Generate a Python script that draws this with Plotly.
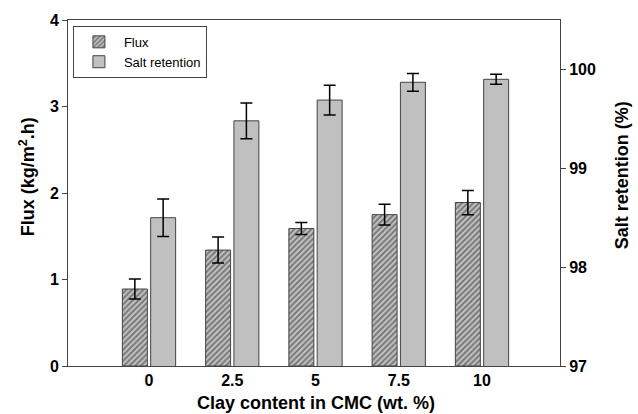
import plotly.graph_objects as go

categories = ["0", "2.5", "5", "7.5", "10"]
flux = [0.89, 1.34, 1.59, 1.75, 1.89]
flux_err = [0.115, 0.15, 0.07, 0.12, 0.14]
salt = [98.50, 99.48, 99.69, 99.87, 99.90]
salt_err = [0.19, 0.18, 0.15, 0.09, 0.05]
left_ticks = [0, 1, 2, 3, 4]
right_ticks = [97, 98, 99, 100]

xpos = list(range(len(categories)))
FONT = "Liberation Sans, Arial, sans-serif"
EDGE = "#444444"

fig = go.Figure()
fig.add_trace(go.Bar(
    x=xpos, y=flux, name="Flux", yaxis="y",
    offset=-0.32, width=0.30,
    marker=dict(color="#b8b8b8", line=dict(color=EDGE, width=1),
                pattern=dict(shape="/", fgcolor="#2a2a2a", bgcolor="#c4c4c4",
                             size=4, solidity=0.5, fillmode="overlay")),
    error_y=dict(type="data", array=flux_err, color="black", thickness=1.5, width=6),
))
fig.add_trace(go.Bar(
    x=xpos, y=salt, name="Salt retention", yaxis="y2",
    offset=0.02, width=0.30,
    marker=dict(color="#c0c0c0", line=dict(color=EDGE, width=1)),
    error_y=dict(type="data", array=salt_err, color="black", thickness=1.5, width=6),
))

tickfont = dict(family=FONT, size=16, color="black", weight="bold")
titlefont = dict(family=FONT, size=18, color="black", weight="bold")

fig.update_layout(
    width=638, height=414,
    margin=dict(l=68, r=78, t=16, b=48),
    paper_bgcolor="white", plot_bgcolor="white",
    barmode="overlay",
    showlegend=True,
    legend=dict(x=0.01, y=0.983, xanchor="left", yanchor="top",
                bordercolor=EDGE, borderwidth=1, bgcolor="white",
                font=dict(family=FONT, size=13, color="black"),
                itemwidth=40),
    xaxis=dict(range=[-0.973, 4.937], tickvals=xpos, ticktext=categories,
               showgrid=False, zeroline=False, showline=True, linecolor=EDGE,
               linewidth=1, mirror=True, ticks="", tickfont=tickfont),
    yaxis=dict(range=[0, 4], tickvals=left_ticks, showgrid=False, zeroline=False,
               showline=True, linecolor=EDGE, linewidth=1, ticks="outside",
               ticklen=5, tickcolor=EDGE, tickfont=tickfont),
    yaxis2=dict(range=[97, 100.5], tickvals=right_ticks, overlaying="y", side="right",
                showgrid=False, zeroline=False, showline=True, linecolor=EDGE,
                linewidth=1, ticks="outside", ticklen=5, tickcolor=EDGE,
                tickfont=tickfont),
    annotations=[
        dict(text="Clay content in CMC (wt. %)", xref="paper", yref="paper",
             x=0.504, y=-0.1057, xanchor="center", yanchor="middle",
             showarrow=False, font=titlefont),
        dict(text="Flux (kg/m<sup>2</sup>.h)", xref="paper", yref="paper",
             x=-0.0833, y=0.5457, xanchor="center", yanchor="middle",
             textangle=-90, showarrow=False, font=titlefont),
        dict(text="Salt retention (%)", xref="paper", yref="paper",
             x=1.126, y=0.551, xanchor="center", yanchor="middle",
             textangle=-90, showarrow=False, font=titlefont),
    ],
)

fig.write_html("out.html")
